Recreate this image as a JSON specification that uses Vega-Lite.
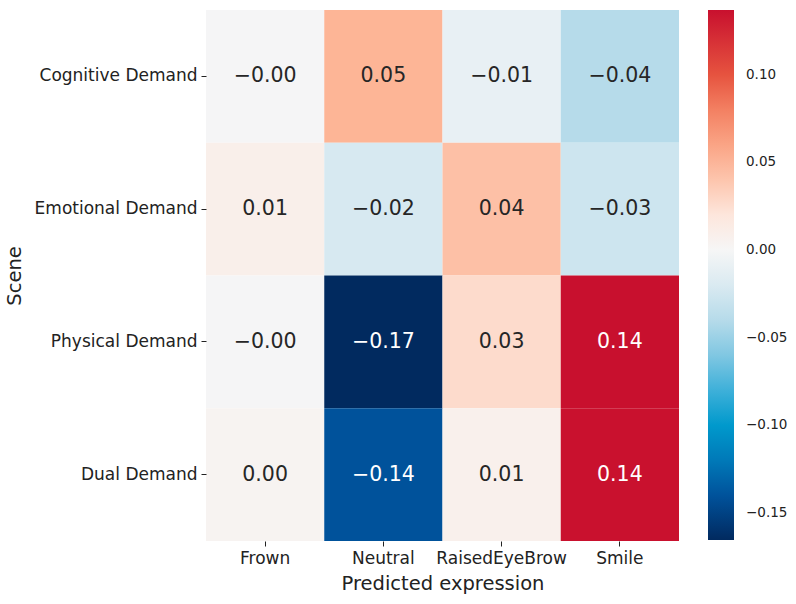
{
  "$schema": "https://vega.github.io/schema/vega-lite/v6.json",
  "width": 473,
  "height": 531,
  "autosize": {"type": "none"},
  "padding": {"left": 206, "top": 10, "right": 117, "bottom": 63},
  "background": "white",
  "config": {
    "view": {"stroke": null},
    "font": "DejaVu Sans",
    "axis": {"labelFont": "DejaVu Sans", "titleFont": "DejaVu Sans", "labelColor": "#222", "titleColor": "#222", "titleFontWeight": "normal", "tickColor": "#222", "domain": false, "grid": false},
    "legend": {"labelFont": "DejaVu Sans", "labelColor": "#222"}
  },
  "data": {
    "values": [
      {"scene": "Cognitive Demand", "expression": "Frown", "value": -0.001, "label": "−0.00"},
      {"scene": "Cognitive Demand", "expression": "Neutral", "value": 0.05, "label": "0.05"},
      {"scene": "Cognitive Demand", "expression": "RaisedEyeBrow", "value": -0.01, "label": "−0.01"},
      {"scene": "Cognitive Demand", "expression": "Smile", "value": -0.04, "label": "−0.04"},
      {"scene": "Emotional Demand", "expression": "Frown", "value": 0.009, "label": "0.01"},
      {"scene": "Emotional Demand", "expression": "Neutral", "value": -0.022, "label": "−0.02"},
      {"scene": "Emotional Demand", "expression": "RaisedEyeBrow", "value": 0.043, "label": "0.04"},
      {"scene": "Emotional Demand", "expression": "Smile", "value": -0.028, "label": "−0.03"},
      {"scene": "Physical Demand", "expression": "Frown", "value": -0.001, "label": "−0.00"},
      {"scene": "Physical Demand", "expression": "Neutral", "value": -0.1653, "label": "−0.17"},
      {"scene": "Physical Demand", "expression": "RaisedEyeBrow", "value": 0.027, "label": "0.03"},
      {"scene": "Physical Demand", "expression": "Smile", "value": 0.1368, "label": "0.14"},
      {"scene": "Dual Demand", "expression": "Frown", "value": 0.004, "label": "0.00"},
      {"scene": "Dual Demand", "expression": "Neutral", "value": -0.14, "label": "−0.14"},
      {"scene": "Dual Demand", "expression": "RaisedEyeBrow", "value": 0.008, "label": "0.01"},
      {"scene": "Dual Demand", "expression": "Smile", "value": 0.136, "label": "0.14"}
    ]
  },
  "encoding": {
    "x": {
      "field": "expression", "type": "nominal",
      "sort": ["Frown", "Neutral", "RaisedEyeBrow", "Smile"],
      "scale": {"paddingInner": 0, "paddingOuter": 0},
      "axis": {"title": "Predicted expression", "titleFontSize": 19.5, "titlePadding": 8, "labelFontSize": 17, "labelAngle": 0, "tickSize": 5, "labelPadding": 4}
    },
    "y": {
      "field": "scene", "type": "nominal",
      "sort": ["Cognitive Demand", "Emotional Demand", "Physical Demand", "Dual Demand"],
      "scale": {"paddingInner": 0, "paddingOuter": 0},
      "axis": {"title": "Scene", "titleFontSize": 19.5, "titleX": -182, "titleY": 265.5, "labelFontSize": 17, "tickSize": 5, "labelPadding": 4}
    }
  },
  "layer": [
    {
      "mark": {"type": "rect", "stroke": null},
      "encoding": {
        "color": {
          "field": "value", "type": "quantitative",
          "scale": {
            "domain": [-0.1653, -0.14, -0.12, -0.10, -0.075, -0.05, -0.025, 0, 0.02, 0.05, 0.075, 0.10, 0.1368],
            "range": ["#012a5f", "#00529b", "#0079b8", "#0099cc", "#4db6dc", "#a2d3e6", "#d3e7f0", "#f6f6f6", "#fde6dc", "#fdb596", "#f68b6b", "#e6533f", "#c8102e"],
            "interpolate": "rgb"
          },
          "legend": {
            "title": null,
            "orient": "none",
            "legendX": 502,
            "legendY": 0,
            "direction": "vertical",
            "gradientLength": 530,
            "gradientThickness": 26,
            "gradientStrokeWidth": 0,
            "values": [-0.15, -0.1, -0.05, 0, 0.05, 0.1],
            "format": ".2f",
            "labelFontSize": 13.5,
            "labelOffset": 12,
            "labelOverlap": false
          }
        }
      }
    },
    {
      "mark": {"type": "text", "fontSize": 20.5, "font": "DejaVu Sans", "align": "center", "baseline": "middle"},
      "encoding": {
        "text": {"field": "label", "type": "nominal"},
        "color": {
          "condition": {"test": "abs(datum.value) > 0.1", "value": "white"},
          "value": "#262626"
        }
      }
    }
  ]
}
